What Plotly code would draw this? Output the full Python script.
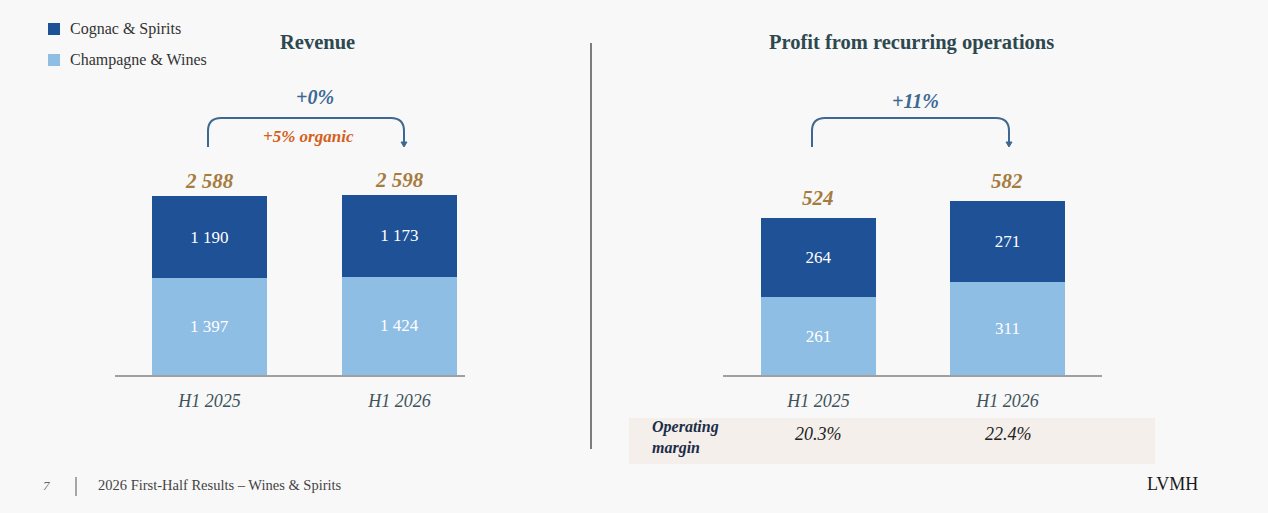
import plotly.graph_objects as go

# ---------------- data ----------------
periods = ["H1 2025", "H1 2026"]
rev_champagne = [1397, 1424]
rev_cognac = [1190, 1173]
rev_total = [2588, 2598]
prof_champagne = [261, 311]
prof_cognac = [264, 271]
prof_total = [524, 582]
op_margin = ["20.3%", "22.4%"]
series_names = ["Cognac & Spirits", "Champagne & Wines"]
rev_change = "+0%"
rev_organic = "+5% organic"
prof_change = "+11%"
titles = ["Revenue", "Profit from recurring operations"]
footer_page = "7"
footer_text = "2026 First-Half Results – Wines & Spirits"
brand = "LVMH"

# ---------------- style ----------------
W, H = 1268, 513
DARK = "#1F5197"
LIGHT = "#8FBEE5"
GOLD = "#A67B3E"
STEEL = "#3D6893"
ORANGE = "#D4601C"
TITLE_C = "#2E4850"
SERIF = "Liberation Serif"
BG = "#F8F8F8"


def X(p):
    return p / W


def Y(p):
    return 1 - p / H


def fmt(v):
    return f"{v:,}".replace(",", " ")


fig = go.Figure()

label_font = dict(family=SERIF, size=17, color="white")
for xa, ya, lo, hi in [("x", "y", rev_champagne, rev_cognac),
                       ("x2", "y2", prof_champagne, prof_cognac)]:
    fig.add_trace(go.Bar(x=periods, y=lo, name=series_names[1], marker_color=LIGHT,
                         marker_line_width=0, text=[fmt(v) for v in lo],
                         textposition="inside", insidetextanchor="middle",
                         textfont=label_font, constraintext="none",
                         xaxis=xa, yaxis=ya, showlegend=False, hoverinfo="skip"))
    fig.add_trace(go.Bar(x=periods, y=hi, name=series_names[0], marker_color=DARK,
                         marker_line_width=0, text=[fmt(v) for v in hi],
                         textposition="inside", insidetextanchor="middle",
                         textfont=label_font, constraintext="none",
                         xaxis=xa, yaxis=ya, showlegend=False, hoverinfo="skip"))

tickfont = dict(family=SERIF, size=18, color="#3E535B", style="italic")
axis_common = dict(showgrid=False, zeroline=False, showline=True, linecolor="#A0A0A0",
                   linewidth=1.5, ticks="", tickfont=tickfont, ticklabelstandoff=9,
                   fixedrange=True)
fig.update_layout(
    barmode="stack",
    bargap=0.395,
    width=W, height=H,
    margin=dict(l=0, r=0, t=0, b=0),
    paper_bgcolor=BG, plot_bgcolor="rgba(0,0,0,0)",
    showlegend=False,
    xaxis=dict(domain=[X(115), X(465)], range=[-0.497, 1.345], anchor="y", **axis_common),
    xaxis2=dict(domain=[X(723), X(1102)], range=[-0.505, 1.5], anchor="y2", **axis_common),
    yaxis=dict(domain=[Y(375), Y(40)], range=[0, 4843], visible=False, fixedrange=True),
    yaxis2=dict(domain=[Y(375), Y(40)], range=[0, 1121], visible=False, fixedrange=True),
)

ann = []


def note(px, py, text, font, xanchor="center", yanchor="middle", **kw):
    ann.append(dict(x=X(px), y=Y(py), xref="paper", yref="paper", text=text, showarrow=False,
                    xanchor=xanchor, yanchor=yanchor, font=font, **kw))


# totals above bars
for xa, ya, tots, shift in [("x", "y", rev_total, 1), ("x2", "y2", prof_total, 6)]:
    for p, t in zip(periods, tots):
        ann.append(dict(x=p, y=t, xref=xa, yref=ya, text=fmt(t), showarrow=False,
                        xanchor="center", yanchor="bottom", yshift=shift,
                        font=dict(family=SERIF, size=21, color=GOLD, weight="bold", style="italic")))

# titles
for cx, t in zip([317, 911], titles):
    note(cx, 42, t, dict(family=SERIF, size=20.5, color=TITLE_C, weight="bold"))

# change labels
note(315, 97, rev_change, dict(family=SERIF, size=20, color=STEEL, weight="bold", style="italic"))
note(308, 136, rev_organic, dict(family=SERIF, size=17, color=ORANGE, weight="bold", style="italic"))
note(916, 101, prof_change, dict(family=SERIF, size=20, color=STEEL, weight="bold", style="italic"))

# legend (manual)
for i, name in enumerate(series_names):
    note(68, 29 + 31 * i, name, dict(family=SERIF, size=16, color="#333333"), xanchor="left")

# operating margin row
note(650, 437, "Operating<br>margin",
     dict(family=SERIF, size=16, color="#1C2D48", weight="bold", style="italic"),
     xanchor="left", align="left")
for cx, m in zip([818, 1008], op_margin):
    note(cx, 434, m, dict(family=SERIF, size=18, color="#222222", style="italic"))

# footer
note(46, 485, footer_page, dict(family=SERIF, size=13, color="#666666", style="italic"))
note(96, 485, footer_text, dict(family=SERIF, size=14.5, color="#444444"), xanchor="left")
note(1172, 484, brand, dict(family=SERIF, size=18, color="#1A1A1A"))

fig.update_layout(annotations=ann)


def bracket(x0, x1, ytop, ybot, r=13):
    return (f"M{X(x0)},{Y(ybot)} L{X(x0)},{Y(ytop + r)} Q{X(x0)},{Y(ytop)} {X(x0 + r)},{Y(ytop)} "
            f"L{X(x1 - r)},{Y(ytop)} Q{X(x1)},{Y(ytop)} {X(x1)},{Y(ytop + r)} L{X(x1)},{Y(ybot - 2)}")


def arrowhead(x, yb):
    return f"M{X(x - 3)},{Y(yb - 5)} L{X(x + 3)},{Y(yb - 5)} L{X(x)},{Y(yb)} Z"


shapes = []
for x0, x1, yt, yb in [(208, 404, 118, 147), (812, 1009, 118, 147)]:
    shapes.append(dict(type="path", xref="paper", yref="paper", path=bracket(x0, x1, yt, yb),
                       line=dict(color=STEEL, width=2)))
    shapes.append(dict(type="path", xref="paper", yref="paper", path=arrowhead(x1, yb),
                       fillcolor=STEEL, line=dict(color=STEEL, width=1)))

# divider
shapes.append(dict(type="line", xref="paper", yref="paper", x0=X(591), x1=X(591), y0=Y(43), y1=Y(449),
                   line=dict(color="#555555", width=1.5)))
# operating margin band
shapes.append(dict(type="rect", xref="paper", yref="paper", x0=X(629), x1=X(1155), y0=Y(464), y1=Y(418),
                   fillcolor="#F4EFEA", line=dict(width=0), layer="below"))
# legend swatches
for i, col in enumerate([DARK, LIGHT]):
    cy = 29 + 31 * i
    shapes.append(dict(type="rect", xref="paper", yref="paper", x0=X(48), x1=X(60), y0=Y(cy + 6), y1=Y(cy - 6),
                       fillcolor=col, line=dict(width=0)))
# footer separator
shapes.append(dict(type="line", xref="paper", yref="paper", x0=X(76), x1=X(76), y0=Y(477), y1=Y(496),
                   line=dict(color="#555555", width=1)))

fig.update_layout(shapes=shapes)
fig.write_html("out.html", config={"displayModeBar": False})
